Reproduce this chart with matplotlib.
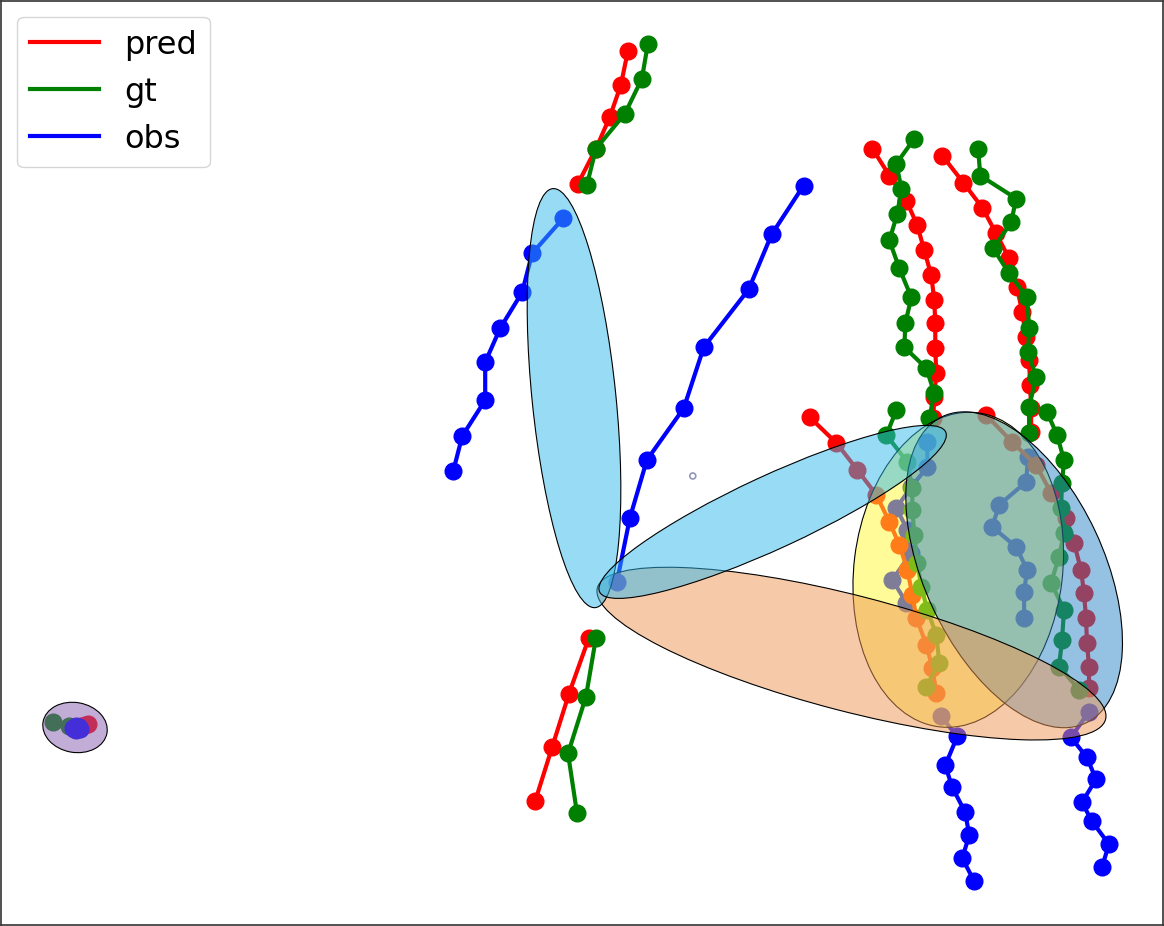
import matplotlib
matplotlib.use("Agg")
from matplotlib import pyplot as plt
from matplotlib.patches import Ellipse
from matplotlib.lines import Line2D
import numpy as np

# trajectories, (x, y) in image-like units (y grows downward)
obs_1 = [(453, 471), (462, 436), (485, 400), (485, 362), (500, 328), (522, 292), (532, 253), (563, 218)]
pred_1 = [(578, 183), (596, 148), (610, 116), (621, 84), (628, 50)]
gt_1 = [(587, 184), (596, 148), (625, 113), (642, 78), (648, 43)]

obs_2 = [(804, 185), (772, 234), (749, 289), (704, 347), (684, 408), (647, 460), (630, 518), (617, 582)]
pred_2 = [(589, 638), (569, 694), (552, 748), (535, 802)]
gt_2 = [(596, 638), (586, 697), (568, 754), (577, 814)]

obs_3 = [(907, 603), (893, 580), (912, 553), (908, 530), (897, 508), (912, 487), (928, 467), (928, 442)]
pred_3 = [(934, 418), (935, 397), (937, 373), (936, 348), (936, 323), (935, 300),
          (932, 275), (925, 250), (918, 225), (907, 200), (890, 175), (873, 148)]
gt_3 = [(930, 418), (935, 393), (927, 368), (905, 347), (906, 323), (912, 297),
        (900, 268), (890, 240), (898, 213), (902, 188), (897, 163), (915, 138)]

obs_4 = [(975, 882), (963, 859), (970, 836), (966, 813), (953, 788), (946, 766), (958, 737), (942, 717)]
pred_4 = [(937, 693), (933, 668), (927, 645), (917, 618), (913, 595), (908, 570),
          (900, 545), (890, 522), (877, 495), (858, 470), (837, 443), (810, 417)]
gt_4 = [(927, 687), (940, 663), (937, 635), (928, 610), (922, 587), (918, 563),
        (915, 535), (913, 510), (913, 488), (908, 462), (887, 435), (897, 410)]

obs_5 = [(1025, 618), (1025, 592), (1028, 570), (1017, 547), (993, 527), (1000, 505), (1027, 482), (1029, 457)]
pred_5 = [(1032, 432), (1032, 408), (1031, 385), (1030, 360), (1027, 337), (1023, 312),
          (1018, 287), (1010, 258), (997, 233), (983, 207), (964, 182), (943, 155)]
gt_5 = [(1030, 433), (1030, 407), (1037, 377), (1029, 352), (1030, 328), (1028, 297),
        (1010, 273), (994, 248), (1012, 222), (1017, 198), (981, 175), (979, 148)]

obs_6 = [(1103, 868), (1110, 845), (1093, 822), (1083, 803), (1097, 780), (1088, 758), (1072, 738), (1090, 712)]
pred_6 = [(1090, 688), (1090, 667), (1088, 643), (1087, 618), (1085, 593), (1082, 570),
          (1075, 543), (1067, 518), (1052, 493), (1037, 465), (1013, 442), (987, 415)]
gt_6 = [(1080, 690), (1060, 667), (1063, 640), (1065, 610), (1052, 583), (1060, 557),
        (1065, 533), (1062, 508), (1063, 483), (1065, 460), (1058, 435), (1048, 412)]

obs_7 = [(72, 729), (75, 731), (77, 728), (79, 730), (75, 727), (73, 730), (76, 729), (78, 728)]
pred_7 = [(80, 727), (84, 726), (87, 725)]
gt_7 = [(52, 723), (68, 727)]

peds = [(obs_1, pred_1, gt_1), (obs_2, pred_2, gt_2), (obs_3, pred_3, gt_3),
        (obs_4, pred_4, gt_4), (obs_5, pred_5, gt_5), (obs_6, pred_6, gt_6)]

# ellipses: center, width, height, angle, base colour (drawn in this order, alpha 0.5)
ell_centers = [(959, 570), (1015, 570), (852, 654), (574, 398), (773, 512), (74, 728)]
ell_widths = [317, 339, 526, 422, 382, 65]
ell_heights = [209, 180, 116, 84, 73, 50]
ell_angles = [97, 65, 14.5, 84.2, -24.8, 10]
ell_colors = ["#FFF933", "#2D87C7", "#EF9755", "#31B9ED", "#31B9ED", "#875DB1"]

small_ring = (693, 476)

fig = plt.figure(figsize=(11.64, 9.26), dpi=100)
ax = fig.add_axes([0.001, 0.001, 0.998, 0.998])


def draw_traj(traj, c):
    arr = np.array(traj)
    ax.plot(arr[:, 0], arr[:, 1], "-o", color=c, lw=3, markersize=12)


for obs, pred, gt in peds:
    draw_traj(obs, "blue")
    draw_traj(pred, "red")
    draw_traj(gt, "green")

# the standing pedestrian: obs sits on top of its short pred/gt
draw_traj(pred_7, "red")
draw_traj(gt_7, "green")
draw_traj(obs_7, "blue")

for (cx, cy), w, h, a, col in zip(ell_centers, ell_widths, ell_heights, ell_angles, ell_colors):
    fc = matplotlib.colors.to_rgba(col, 0.5)
    ax.add_patch(Ellipse((cx, cy), w, h, angle=a, facecolor=fc, edgecolor="black",
                         lw=0.8, zorder=3))

ax.add_patch(Ellipse(small_ring, 6, 6, facecolor="none", edgecolor="#9098b8", lw=1.2, zorder=3))

ax.set_xlim(0, 1164)
ax.set_ylim(926, 0)
ax.set_xticks([])
ax.set_yticks([])
for s in ax.spines.values():
    s.set_linewidth(1.2)
    s.set_color("#333333")

handles = [Line2D([], [], color="red", lw=3),
           Line2D([], [], color="green", lw=3),
           Line2D([], [], color="blue", lw=3)]
leg = ax.legend(handles, ["pred", "gt", "obs"], loc="upper left", fontsize=23,
                handlelength=2.15)
leg.set_zorder(5)

fig.savefig("out.png", dpi=100)
